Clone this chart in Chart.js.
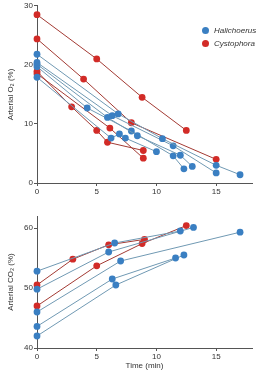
<!DOCTYPE html>
<html lang="en">
<head>
    <meta charset="UTF-8">
    <title>Arterial O2 and CO2 during diving</title>
    <script src="https://cdn.jsdelivr.net/npm/chart.js"></script>
    <style>
        body { margin: 0; background: #fff; }
        #wrap { position: relative; width: 256px; height: 371px; }
        .box { position: absolute; left: 0; width: 256px; }
        #legend { position: absolute; left: 202px; top: 24px; font: italic 8px 'Liberation Sans', Arial, sans-serif; color: #333; }
        #legend div { height: 13px; line-height: 13px; white-space: nowrap; }
        #legend span { display: inline-block; width: 7px; height: 7px; border-radius: 50%; margin-right: 5px; vertical-align: -1px; }
    </style>
</head>
<body>
<div id="wrap">
    <div class="box" style="top:0;height:196px"><canvas id="o2Chart"></canvas></div>
    <div class="box" style="top:196px;height:175px"><canvas id="co2Chart"></canvas></div>
    <div id="legend"></div>
</div>

<script>
// time (min) and arterial O2 (%) for each dive
const o2HaliTimes = [[0, 6.8, 10.5, 15, 17], [0, 6.3, 11.4, 15], [0, 5.9, 8.4, 12, 13], [0, 4.2, 7.9, 11.4, 12.3], [0, 6.2, 6.9, 7.4, 10]];
const o2HaliValues = [[21.8, 11.7, 7.5, 3.0, 1.4], [20.4, 11.4, 6.3, 1.7], [20.1, 11.1, 8.0, 4.7, 2.8], [19.7, 12.7, 8.8, 4.6, 2.4], [17.9, 7.6, 8.3, 7.6, 5.3]];
const o2CystTimes = [[0, 5, 8.8, 12.5], [0, 3.9, 7.9, 15], [0, 2.9, 5, 5.9, 8.9], [0, 6.1, 8.9]];
const o2CystValues = [[28.5, 21, 14.5, 8.9], [24.4, 17.6, 10.2, 4.0], [18.9, 12.9, 8.9, 6.9, 5.5], [18.5, 9.3, 4.2]];

// time (min) and arterial CO2 (%) for each dive
const co2HaliTimes = [[0, 6.5, 12], [0, 6, 13.1], [0, 7, 17], [0, 6.3, 11.6], [0, 6.6, 12.3]];
const co2HaliValues = [[52.8, 57.5, 59.5], [49.8, 56, 60.1], [46, 54.5, 59.3], [43.6, 51.5, 55], [42, 50.5, 55.5]];
const co2CystTimes = [[0, 3, 6, 9], [0, 5, 8.8, 12.5]];
const co2CystValues = [[50.5, 54.8, 57.2, 58.1], [47, 53.7, 57.4, 60.4]];

const xTicks = [0, 5, 10, 15];
const species = ['Halichoerus', 'Cystophora'];
const dotColors = ['#3a7fc2', '#d22b27'];
const lineColors = ['#7099b3', '#a33a33'];

const font = { family: "'Liberation Sans', 'DejaVu Sans', Arial, sans-serif", size: 8 };
const axisGray = '#555';

function makeSets(times, values, k) {
    return times.map((ts, i) => ({
        label: species[k],
        data: ts.map((t, j) => ({ x: t, y: values[i][j] })),
        borderColor: lineColors[k],
        backgroundColor: dotColors[k],
        pointBackgroundColor: dotColors[k],
        pointBorderWidth: 0,
        pointRadius: 3.4,
        borderWidth: 1,
        clip: false,
        fill: false
    }));
}

function makeChart(id, datasets, yMin, yMax, yTitle, xTitle, pad, xHeight) {
    new Chart(document.getElementById(id), {
        type: 'line',
        data: { datasets: datasets },
        options: {
            responsive: true,
            maintainAspectRatio: false,
            animation: false,
            layout: { padding: pad },
            plugins: { legend: { display: false }, tooltip: { enabled: false } },
            scales: {
                x: {
                    type: 'linear', min: 0, max: 18,
                    afterBuildTicks: s => { s.ticks = xTicks.map(v => ({ value: v })); },
                    afterFit: s => { s.height = xHeight; },
                    grid: { drawOnChartArea: false, tickLength: 3, color: axisGray },
                    border: { color: axisGray },
                    ticks: { font: font, color: '#333', padding: 1, maxRotation: 0 },
                    title: { display: !!xTitle, text: xTitle, font: font, color: '#333', padding: { top: 1, bottom: 0 } }
                },
                y: {
                    min: yMin, max: yMax,
                    afterBuildTicks: s => { s.ticks = s.ticks.filter(t => t.value % 10 === 0); },
                    afterFit: s => { s.width = 37; },
                    grid: { drawOnChartArea: false, tickLength: 3, color: axisGray },
                    border: { color: axisGray },
                    ticks: { font: font, color: '#333', padding: 1, stepSize: 10 },
                    title: { display: true, text: yTitle, font: font, color: '#333', padding: { top: 6, bottom: 0 } }
                }
            }
        }
    });
}

makeChart('o2Chart',
    makeSets(o2HaliTimes, o2HaliValues, 0).concat(makeSets(o2CystTimes, o2CystValues, 1)),
    0, 30, 'Arterial O₂ (%)', '', { top: 3, right: 3, left: 0, bottom: 0 }, 13);

makeChart('co2Chart',
    makeSets(co2HaliTimes, co2HaliValues, 0).concat(makeSets(co2CystTimes, co2CystValues, 1)),
    40, 62, 'Arterial CO₂ (%)', 'Time (min)', { top: 20, right: 2, left: 0, bottom: 0 }, 23);

// legend built from the species colours
document.getElementById('legend').innerHTML = species.map((s, k) =>
    '<div><span style="background:' + dotColors[k] + '"></span>' + s + '</div>').join('');
</script>
</body>
</html>
